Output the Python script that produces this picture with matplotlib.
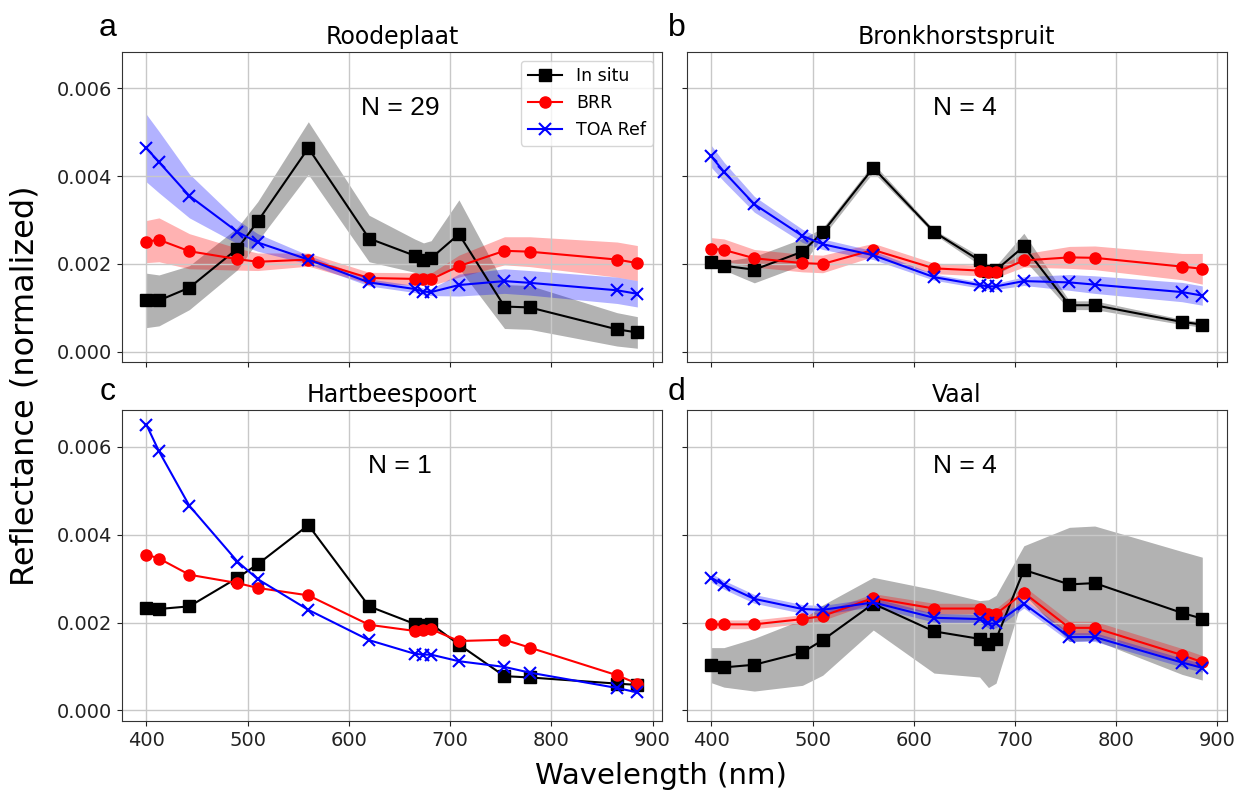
import matplotlib
matplotlib.use('Agg')
import numpy as np
import matplotlib.pyplot as plt

# OLCI band centres (nm)
wl = [400, 412.5, 442.5, 490, 510, 560, 620, 665, 673.75, 681.25, 708.75, 753.75, 778.75, 865, 885]

# Roodeplaat
rood_insitu = [0.00117, 0.00117, 0.00146, 0.00235, 0.00297, 0.00464, 0.00258, 0.00219, 0.00208, 0.00213, 0.00268, 0.00103, 0.00101, 0.00051, 0.00044]
rood_insitu_sd = [0.00062, 0.00058, 0.0005, 0.00048, 0.00045, 0.0006, 0.00053, 0.00038, 0.0004, 0.0004, 0.00078, 0.0005, 0.0005, 0.00038, 0.00036]
rood_brr = [0.00251, 0.00255, 0.00229, 0.00211, 0.00205, 0.0021, 0.00168, 0.00166, 0.00165, 0.00165, 0.00195, 0.0023, 0.00228, 0.0021, 0.00202]
rood_brr_sd = [0.00048, 0.0005, 0.0004, 0.00025, 0.0002, 0.00015, 0.00013, 0.00014, 0.00014, 0.00014, 0.00025, 0.00032, 0.00034, 0.0004, 0.0004]
rood_toa = [0.00464, 0.00432, 0.00355, 0.00273, 0.00249, 0.0021, 0.00158, 0.00143, 0.00137, 0.00136, 0.00152, 0.00161, 0.00157, 0.0014, 0.00132]
rood_toa_sd = [0.00077, 0.0007, 0.0005, 0.00027, 0.0002, 0.0001, 0.00008, 0.00008, 0.00008, 0.00008, 0.00025, 0.00028, 0.00028, 0.0003, 0.0003]

# Bronkhorstspruit
bronk_insitu = [0.00205, 0.00196, 0.00187, 0.00228, 0.00272, 0.00419, 0.00273, 0.00208, 0.00185, 0.00186, 0.0024, 0.00106, 0.00106, 0.00068, 0.00062]
bronk_insitu_sd = [0.0001, 0.0001, 0.0003, 0.0003, 0.0001, 0.0001, 0.00005, 0.0001, 0.0001, 0.0001, 0.0003, 0.0001, 0.0001, 0.00006, 0.00006]
bronk_brr = [0.00235, 0.00232, 0.00213, 0.00202, 0.002, 0.00232, 0.0019, 0.00185, 0.00181, 0.00181, 0.00208, 0.00215, 0.00214, 0.00194, 0.00189]
bronk_brr_sd = [0.00025, 0.00025, 0.0002, 0.0002, 0.0002, 0.00015, 0.00012, 0.00012, 0.00012, 0.00012, 0.00015, 0.00025, 0.00027, 0.0003, 0.00035]
bronk_toa = [0.00445, 0.0041, 0.00336, 0.00264, 0.00245, 0.0022, 0.0017, 0.00152, 0.00149, 0.00149, 0.00161, 0.00158, 0.00153, 0.00136, 0.00128]
bronk_toa_sd = [0.00025, 0.00022, 0.00018, 0.00015, 0.00012, 0.0001, 0.00007, 0.00007, 0.00007, 0.00007, 0.0001, 0.00018, 0.0002, 0.00022, 0.00022]

# Hartbeespoort (single match, no spread)
hart_insitu = [0.00234, 0.00231, 0.00237, 0.00302, 0.00333, 0.00422, 0.00237, 0.00197, 0.00195, 0.00197, 0.0015, 0.00078, 0.00075, 0.00061, 0.00058]
hart_brr = [0.00355, 0.00346, 0.00309, 0.0029, 0.00279, 0.00262, 0.00195, 0.00181, 0.00182, 0.00185, 0.00158, 0.00161, 0.00143, 0.0008, 0.00061]
hart_toa = [0.00651, 0.0059, 0.00466, 0.00339, 0.00299, 0.00229, 0.0016, 0.00129, 0.00127, 0.00127, 0.00112, 0.00099, 0.00086, 0.00051, 0.00041]

# Vaal
vaal_insitu = [0.00103, 0.00098, 0.00104, 0.00132, 0.0016, 0.00243, 0.0018, 0.00163, 0.00152, 0.00162, 0.0032, 0.00287, 0.0029, 0.00222, 0.00209]
vaal_insitu_sd = [0.0004, 0.00045, 0.0006, 0.00075, 0.0008, 0.0006, 0.00095, 0.00087, 0.001, 0.001, 0.00055, 0.0013, 0.0013, 0.0014, 0.0014]
vaal_brr = [0.00196, 0.00196, 0.00196, 0.00208, 0.00215, 0.00256, 0.00232, 0.00232, 0.0022, 0.0022, 0.00268, 0.00188, 0.00188, 0.00126, 0.0011]
vaal_brr_sd = [0.0001, 0.0001, 0.0001, 0.0001, 0.0001, 0.0001, 0.00012, 0.00012, 0.00012, 0.00012, 0.00015, 0.00015, 0.00015, 0.00015, 0.00015]
vaal_toa = [0.00302, 0.00286, 0.00254, 0.00231, 0.00229, 0.00246, 0.00211, 0.00208, 0.00198, 0.00198, 0.00243, 0.00167, 0.00167, 0.00109, 0.00097]
vaal_toa_sd = [0.0001, 0.0001, 0.0001, 0.0001, 0.0001, 0.0001, 0.0001, 0.0001, 0.0001, 0.0001, 0.0001, 0.0001, 0.0001, 0.0001, 0.0001]

sites = ['Roodeplaat', 'Bronkhorstspruit', 'Hartbeespoort', 'Vaal']
letters = ['a', 'b', 'c', 'd']
n_obs = ['N = 29', 'N = 4', 'N = 1', 'N = 4']

panels = [
    [(rood_insitu, rood_insitu_sd), (rood_brr, rood_brr_sd), (rood_toa, rood_toa_sd)],
    [(bronk_insitu, bronk_insitu_sd), (bronk_brr, bronk_brr_sd), (bronk_toa, bronk_toa_sd)],
    [(hart_insitu, None), (hart_brr, None), (hart_toa, None)],
    [(vaal_insitu, vaal_insitu_sd), (vaal_brr, vaal_brr_sd), (vaal_toa, vaal_toa_sd)],
]
labels = ['In situ', 'BRR', 'TOA Ref']
colors = ['k', 'r', 'b']
markers = ['s', 'o', 'x']

fig, axs = plt.subplots(2, 2, figsize=(12.43, 7.98), dpi=100, sharex=True, sharey=True)
plt.subplots_adjust(left=0.098, right=0.987, top=0.935, bottom=0.0965, wspace=0.046, hspace=0.155)

x = np.array(wl)
for i, ax in enumerate(axs.flat):
    for j in range(3):
        mean, sd = panels[i][j]
        mean = np.array(mean)
        if sd is not None:
            sd = np.array(sd)
            ax.fill_between(x, mean - sd, mean + sd, color=colors[j], alpha=0.3, linewidth=0)
        ax.plot(x, mean, color=colors[j], marker=markers[j], markersize=8, linewidth=1.5,
                markeredgewidth=1.5 if markers[j] == 'x' else 1, label=labels[j])
    ax.grid(True, color='#c8c8c8', linewidth=1)
    ax.set_title(sites[i], fontsize=17)
    ax.text(0.515, 0.82, n_obs[i], transform=ax.transAxes, ha='center', va='center',
            fontsize=19, family='Liberation Sans')
    ax.tick_params(labelsize=14, colors='#222222')
    for s in ax.spines.values():
        s.set_color('#333333')

axs[0, 0].set_xticks([400, 500, 600, 700, 800, 900])
axs[0, 0].set_yticks([0, 0.002, 0.004, 0.006])
axs[0, 0].yaxis.set_major_formatter(matplotlib.ticker.FormatStrFormatter('%.3f'))
axs[0, 0].legend(loc='upper right', fontsize=12.5)

fig.text(0.079, 0.955, 'a', fontsize=23, family='Liberation Sans')
fig.text(0.537, 0.955, 'b', fontsize=23, family='Liberation Sans')
fig.text(0.080, 0.499, 'c', fontsize=23, family='Liberation Sans')
fig.text(0.537, 0.499, 'd', fontsize=23, family='Liberation Sans')

fig.text(0.532, 0.027, 'Wavelength (nm)', ha='center', va='center', fontsize=21)
fig.text(0.02, 0.517, 'Reflectance (normalized)', ha='center', va='center', rotation=90, fontsize=23)

plt.savefig('out.png')
